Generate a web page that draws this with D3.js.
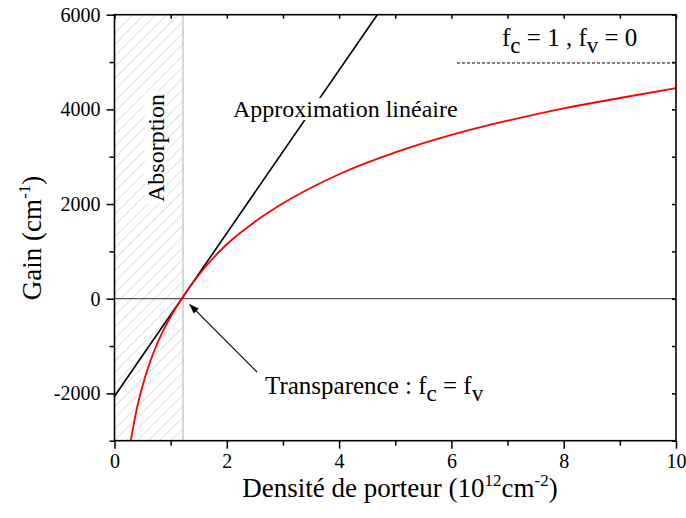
<!DOCTYPE html>
<html><head><meta charset="utf-8">
<script src="https://cdn.jsdelivr.net/npm/d3@7"></script>
<style>body{margin:0;background:#fff} svg{display:block} text{font-family:"Liberation Serif","Times New Roman",serif;fill:#000}</style>
</head><body><svg id="c" width="686" height="518"></svg>
<script>
// data
const densite = [0.29, 0.4, 0.5, 0.6, 0.7, 0.85, 1.0, 1.2, 1.5, 2.0, 2.5, 3.0, 3.5, 4.0, 5.0, 6.0, 7.0, 8.0, 9.0, 10];
const gain    = [-3000, -2310, -1840, -1450, -1120, -715, -380, 0, 500, 1150, 1625, 2015, 2345, 2630, 3090, 3460, 3760, 4020, 4240, 4450];
const linDensite = [0, 4.68];
const linGain    = [-2060, 6000];
const absorptionZone = [0, 1.22];
const saturationX = [6.1, 10];
const saturationY = [4980, 4980];
const transparence = [1.2, 0];
const xTickValues = [0, 2, 4, 6, 8, 10];
const xMinorTicks = [1, 3, 5, 7, 9];
const yTickValues = [-2000, 0, 2000, 4000, 6000];
const yMinorTicks = [-3000, -1000, 1000, 3000, 5000];

const svg = d3.select("#c");
const L = 114.5, R = 676, T = 14.7, B = 440.7;
const x = d3.scaleLinear().domain([0, 10]).range([L, R]);
const y = d3.scaleLinear().domain([-3000, 6000]).range([B, T]);
const fmt = d => String(d);

const defs = svg.append("defs");
const pat = defs.append("pattern").attr("id", "hatch").attr("patternUnits", "userSpaceOnUse")
  .attr("width", 8).attr("height", 8).attr("patternTransform", "rotate(45)");
pat.append("line").attr("x1", 0).attr("y1", 0).attr("x2", 0).attr("y2", 8)
  .attr("stroke", "#c8c8c8").attr("stroke-width", 1.1);
defs.append("clipPath").attr("id", "clip").append("rect")
  .attr("x", L).attr("y", T).attr("width", R - L).attr("height", B - T);
defs.append("marker").attr("id", "arr").attr("viewBox", "0 0 10 10").attr("refX", 9).attr("refY", 5)
  .attr("markerWidth", 10).attr("markerHeight", 10).attr("markerUnits", "userSpaceOnUse").attr("orient", "auto")
  .append("path").attr("d", "M0,1.5 L10,5 L0,8.5 Z").attr("fill", "#000");

// absorption zone
svg.append("rect").attr("x", x(absorptionZone[0])).attr("y", T)
  .attr("width", x(absorptionZone[1]) - x(absorptionZone[0])).attr("height", B - T)
  .attr("fill", "url(#hatch)");
svg.append("line").attr("x1", x(absorptionZone[1])).attr("x2", x(absorptionZone[1]))
  .attr("y1", T).attr("y2", B).attr("stroke", "#bdbdbd").attr("stroke-width", 1.2);

// zero line
svg.append("line").attr("x1", L).attr("x2", R).attr("y1", y(0)).attr("y2", y(0))
  .attr("stroke", "#333").attr("stroke-width", 1);

const g = svg.append("g").attr("clip-path", "url(#clip)");
// linear approximation
g.append("path").datum(linDensite.map((d, i) => [d, linGain[i]]))
  .attr("d", d3.line().x(d => x(d[0])).y(d => y(d[1])))
  .attr("fill", "none").attr("stroke", "#000").attr("stroke-width", 1.6);
// gain curve
g.append("path").datum(densite.map((d, i) => [d, gain[i]]))
  .attr("d", d3.line().x(d => x(d[0])).y(d => y(d[1])).curve(d3.curveMonotoneX))
  .attr("fill", "none").attr("stroke", "#ff0000").attr("stroke-width", 1.8);
// saturation dashed line
g.append("path").datum(saturationX.map((d, i) => [d, saturationY[i]]))
  .attr("d", d3.line().x(d => x(d[0])).y(d => y(d[1])))
  .attr("fill", "none").attr("stroke", "#000").attr("stroke-width", 1).attr("stroke-dasharray", "3,2");

// axes
svg.append("g").attr("transform", `translate(0,${B})`)
  .call(d3.axisBottom(x).tickValues(xTickValues).tickSize(8).tickPadding(5).tickFormat(fmt));
svg.append("g").attr("transform", `translate(0,${B})`)
  .call(d3.axisBottom(x).tickValues(xMinorTicks).tickSize(5).tickFormat(""));
svg.append("g").attr("transform", `translate(${L},0)`)
  .call(d3.axisLeft(y).tickValues(yTickValues).tickSize(8).tickPadding(6).tickFormat(fmt));
svg.append("g").attr("transform", `translate(${L},0)`)
  .call(d3.axisLeft(y).tickValues(yMinorTicks).tickSize(5).tickFormat(""));
svg.append("g").attr("transform", `translate(0,${T})`)
  .call(d3.axisBottom(x).tickValues(d3.merge([xTickValues, xMinorTicks])).tickSize(4).tickFormat(""));
svg.append("g").attr("transform", `translate(${R},0)`)
  .call(d3.axisLeft(y).tickValues(d3.merge([yTickValues, yMinorTicks])).tickSize(4).tickFormat(""));
svg.selectAll(".domain").remove();
svg.selectAll(".tick line").attr("stroke", "#000").attr("stroke-width", 1.5);
svg.selectAll(".tick text").style("font-family", "'Liberation Serif',serif").style("font-size", "20px").attr("fill", "#000");
svg.append("rect").attr("x", L).attr("y", T).attr("width", R - L).attr("height", B - T)
  .attr("fill", "none").attr("stroke", "#000").attr("stroke-width", 1.6);

// axis titles
const xt = svg.append("text").attr("x", 400).attr("y", 497).attr("text-anchor", "middle").style("font-size", "27px");
xt.append("tspan").text("Densité de porteur (10");
xt.append("tspan").attr("dy", -11).style("font-size", "17px").text("12");
xt.append("tspan").attr("dy", 11).text("cm");
xt.append("tspan").attr("dy", -11).style("font-size", "17px").text("-2");
xt.append("tspan").attr("dy", 11).text(")");

const yt = svg.append("text").attr("transform", "translate(41,238) rotate(-90)").attr("text-anchor", "middle").style("font-size", "27px");
yt.append("tspan").text("Gain (cm");
yt.append("tspan").attr("dy", -11).style("font-size", "17px").text("-1");
yt.append("tspan").attr("dy", 11).text(")");

// annotations with white background
function labelBg(t, pad) {
  const b = t.node().getBBox();
  const p = t.node().parentNode;
  d3.select(p).insert("rect", () => t.node())
    .attr("x", b.x - pad).attr("y", b.y + 2).attr("width", b.width + 2 * pad).attr("height", b.height - 4)
    .attr("fill", "#fff").attr("transform", t.attr("transform"));
}
const ap = svg.append("text").attr("x", 233).attr("y", 117).style("font-size", "24px").text("Approximation linéaire");
labelBg(ap, 3);

const ab = svg.append("text").attr("transform", "translate(164,148) rotate(-90)").attr("text-anchor", "middle")
  .style("font-size", "24px").text("Absorption");
labelBg(ab, 2);

const fv = svg.append("text").attr("x", 502).attr("y", 46).style("font-size", "25px");
fv.append("tspan").text("f");
fv.append("tspan").attr("dy", 7).style("font-size", "23px").text("c");
fv.append("tspan").attr("dy", -7).text(" = 1 , f");
fv.append("tspan").attr("dy", 7).style("font-size", "23px").text("v");
fv.append("tspan").attr("dy", -7).text(" = 0");

const tr = svg.append("text").attr("x", 265).attr("y", 394).style("font-size", "25px");
tr.append("tspan").text("Transparence : f");
tr.append("tspan").attr("dy", 7).style("font-size", "23px").text("c");
tr.append("tspan").attr("dy", -7).text(" = f");
tr.append("tspan").attr("dy", 7).style("font-size", "23px").text("v");

// arrow to transparency point
svg.append("line").attr("x1", 257).attr("y1", 372)
  .attr("x2", x(transparence[0]) + 8).attr("y2", y(transparence[1]) + 6)
  .attr("stroke", "#000").attr("stroke-width", 1.1).attr("marker-end", "url(#arr)");
</script></body></html>
